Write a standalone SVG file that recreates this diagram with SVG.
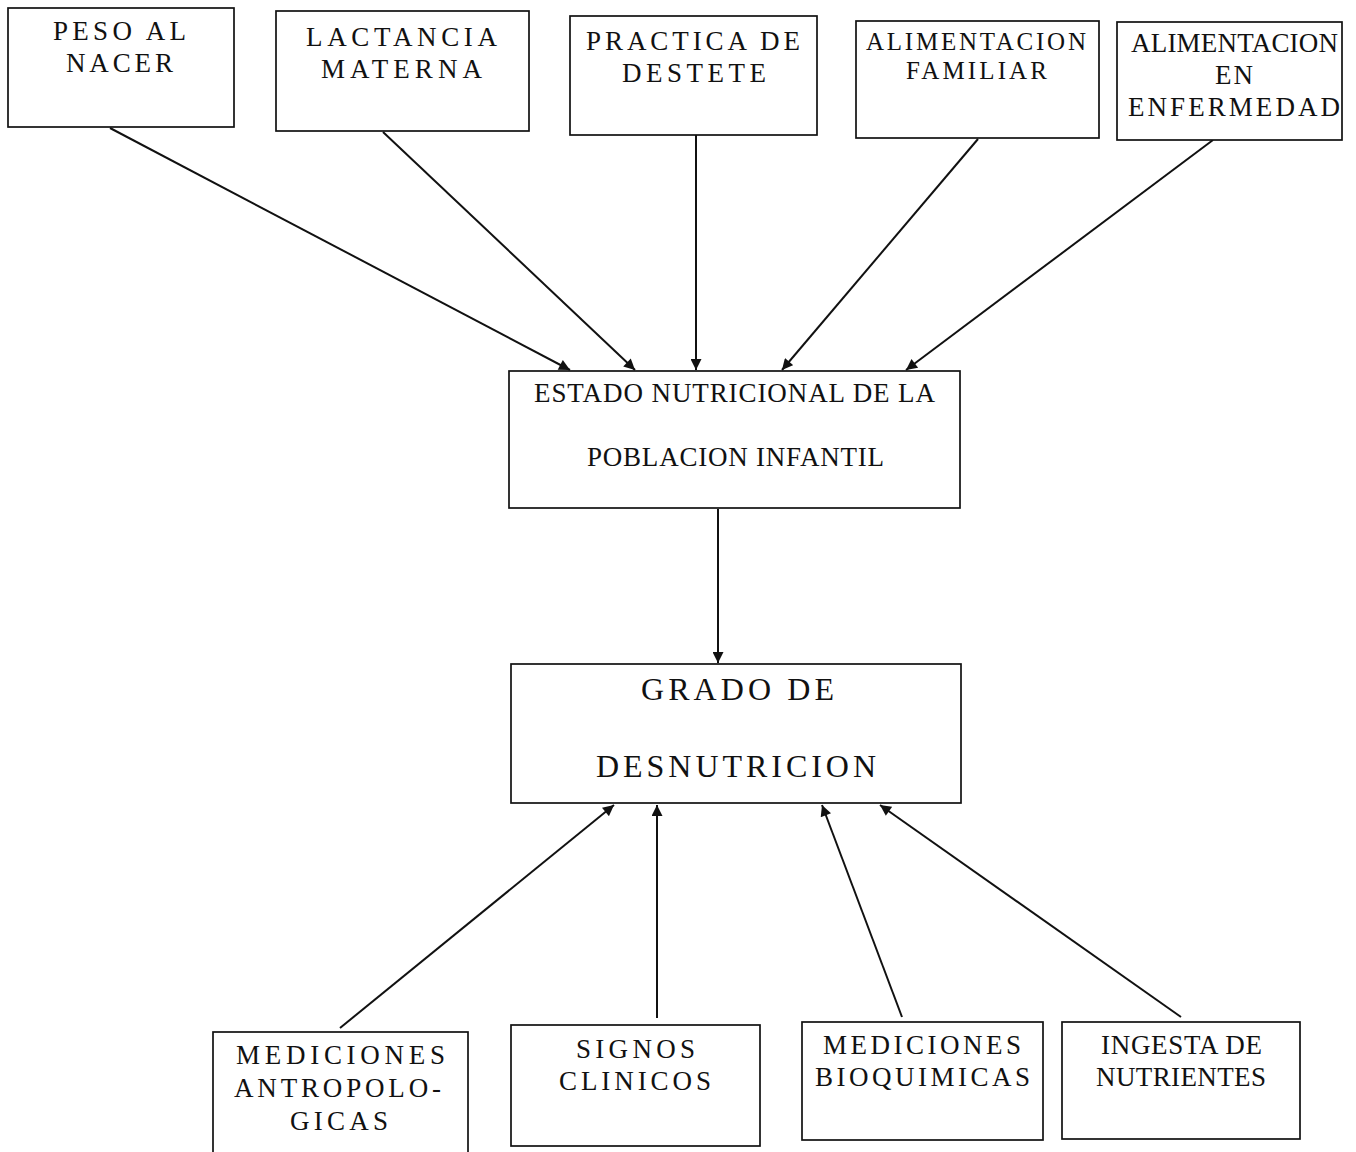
<svg xmlns="http://www.w3.org/2000/svg" width="1356" height="1152" viewBox="0 0 1356 1152">
<defs>
<style>
.box{fill:#fff;stroke:#111;stroke-width:1.7}
.t{font-family:"Liberation Serif","Times New Roman",serif;font-size:27px;fill:#111;text-anchor:middle}
.tb{font-size:32px}
.c{stroke:#111;stroke-width:2;fill:none;marker-end:url(#ah)}
</style>
<marker id="ah" viewBox="0 0 10 10" refX="10" refY="5" markerWidth="12" markerHeight="11" markerUnits="userSpaceOnUse" orient="auto">
<path d="M0,0 L10,5 L0,10 z" fill="#111"/>
</marker>
</defs>
<rect width="1356" height="1152" fill="#fff"/>
<g id="connectors">
<line class="c" x1="110" y1="128" x2="570" y2="370"/>
<line class="c" x1="383" y1="132" x2="635" y2="370"/>
<line class="c" x1="696" y1="135" x2="696" y2="370"/>
<line class="c" x1="978" y1="139" x2="782" y2="370"/>
<line class="c" x1="1213" y1="140" x2="906" y2="370"/>
<line class="c" x1="718" y1="509" x2="718" y2="663"/>
<line class="c" x1="340" y1="1028" x2="614" y2="805"/>
<line class="c" x1="657" y1="1018" x2="657" y2="805"/>
<line class="c" x1="902" y1="1017" x2="822" y2="805"/>
<line class="c" x1="1181" y1="1017" x2="880" y2="805"/>
</g>
<g id="peso">
<rect class="box" x="8" y="8" width="226" height="119"/>
<text class="t" x="119.5" y="40" textLength="133" lengthAdjust="spacing">PESO AL</text>
<text class="t" x="119.5" y="72" textLength="107" lengthAdjust="spacing">NACER</text>
</g>
<g id="lactancia">
<rect class="box" x="276" y="11" width="253" height="120"/>
<text class="t" x="401.5" y="46" textLength="191" lengthAdjust="spacing">LACTANCIA</text>
<text class="t" x="401.5" y="78" textLength="161" lengthAdjust="spacing">MATERNA</text>
</g>
<g id="destete">
<rect class="box" x="570" y="16" width="247" height="119"/>
<text class="t" x="693" y="50" textLength="214" lengthAdjust="spacing">PRACTICA DE</text>
<text class="t" x="694" y="82" textLength="144" lengthAdjust="spacing">DESTETE</text>
</g>
<g id="familiar">
<rect class="box" x="856" y="21" width="243" height="117"/>
<text class="t" x="976" y="50" textLength="220" lengthAdjust="spacing" style="font-size:25px">ALIMENTACION</text>
<text class="t" x="976.5" y="79" textLength="141" lengthAdjust="spacing" style="font-size:25px">FAMILIAR</text>
</g>
<g id="enfermedad">
<rect class="box" x="1117" y="22" width="225" height="118"/>
<text class="t" x="1234.5" y="52" textLength="207" lengthAdjust="spacing">ALIMENTACION</text>
<text class="t" x="1234" y="84" textLength="38" lengthAdjust="spacing">EN</text>
<text class="t" x="1234" y="116" textLength="212" lengthAdjust="spacing">ENFERMEDAD</text>
</g>
<g id="estado">
<rect class="box" x="509" y="371" width="451" height="137"/>
<text class="t" x="734.5" y="402" textLength="401" lengthAdjust="spacing">ESTADO NUTRICIONAL DE LA</text>
<text class="t" x="735.5" y="466" textLength="297" lengthAdjust="spacing">POBLACION INFANTIL</text>
</g>
<g id="grado">
<rect class="box" x="511" y="664" width="450" height="139"/>
<text class="t tb" x="737.5" y="700" textLength="193" lengthAdjust="spacing">GRADO DE</text>
<text class="t tb" x="736" y="777" textLength="280" lengthAdjust="spacing">DESNUTRICION</text>
</g>
<g id="antropologicas">
<rect class="box" x="213" y="1032" width="255" height="130"/>
<text class="t" x="340.5" y="1064" textLength="209" lengthAdjust="spacing">MEDICIONES</text>
<text class="t" x="337.5" y="1097" textLength="207" lengthAdjust="spacing">ANTROPOLO-</text>
<text class="t" x="339" y="1130" textLength="98" lengthAdjust="spacing">GICAS</text>
</g>
<g id="signos">
<rect class="box" x="511" y="1025" width="249" height="121"/>
<text class="t" x="635.5" y="1058" textLength="119" lengthAdjust="spacing">SIGNOS</text>
<text class="t" x="635" y="1090" textLength="152" lengthAdjust="spacing">CLINICOS</text>
</g>
<g id="bioquimicas">
<rect class="box" x="802" y="1022" width="241" height="118"/>
<text class="t" x="922" y="1054" textLength="198" lengthAdjust="spacing">MEDICIONES</text>
<text class="t" x="922.5" y="1086" textLength="215" lengthAdjust="spacing">BIOQUIMICAS</text>
</g>
<g id="ingesta">
<rect class="box" x="1062" y="1022" width="238" height="117"/>
<text class="t" x="1181.5" y="1054" textLength="161" lengthAdjust="spacing">INGESTA DE</text>
<text class="t" x="1181" y="1086" textLength="170" lengthAdjust="spacing">NUTRIENTES</text>
</g>
</svg>
